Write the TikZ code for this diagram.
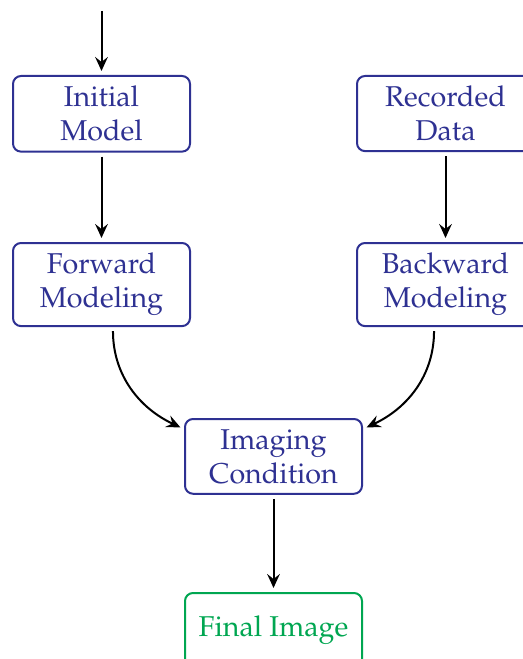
\documentclass[tikz,border=0pt]{standalone}
\usepackage[T1]{fontenc}
\usetikzlibrary{arrows.meta,calc}
\definecolor{boxblue}{RGB}{46,49,146}
\definecolor{boxgreen}{RGB}{0,166,81}
\tikzset{
  flowbox/.style={draw=boxblue, text=boxblue, line width=1.5pt, rounded corners=6pt,
    minimum width=132.75pt, align=center, inner ysep=7.6pt,
    font=\fontsize{21.5pt}{25.5pt}\fontfamily{ppl}\selectfont},
  finalbox/.style={flowbox, draw=boxgreen, text=boxgreen, minimum height=56.25pt},
  flowarrow/.style={line width=1.5pt, -{Stealth[length=10.5pt,width=9.5pt,inset=3.8pt]},
    shorten <=3pt, shorten >=3pt}
}
\begin{document}
\begin{tikzpicture}[x=0.75pt,y=-0.75pt]
\useasboundingbox (0,0) rectangle (523,659);
\clip (0,0) rectangle (523,659);
\node[flowbox, anchor=north] (init) at (101.5,75) {Initial\\Model};
\node[flowbox, anchor=north] (rec) at (445.5,75) {Recorded\\Data};
\node[flowbox, anchor=north] (fwd) at (101.5,242) {Forward\\Modeling};
\node[flowbox, anchor=north] (bwd) at (445.5,242) {Backward\\Modeling};
\node[flowbox, anchor=north] (img) at (273.5,418) {Imaging\\Condition};
\node[finalbox, anchor=north] (fin) at (273.5,592) {Final Image};
\coordinate (start) at (101.5,11);
\draw[flowarrow, shorten <=0pt] (start) -- (init);
\draw[flowarrow] (init) -- (fwd);
\draw[flowarrow] (rec) -- (bwd);
\draw[flowarrow] ([xshift=8.6pt]fwd.south) to[out=-90,in=155] ([yshift=-8.25pt]img.north west);
\draw[flowarrow] ([xshift=-8.6pt]bwd.south) to[out=-90,in=25] ([yshift=-8.25pt]img.north east);
\draw[flowarrow] (img) -- (fin);
\end{tikzpicture}
\end{document}
